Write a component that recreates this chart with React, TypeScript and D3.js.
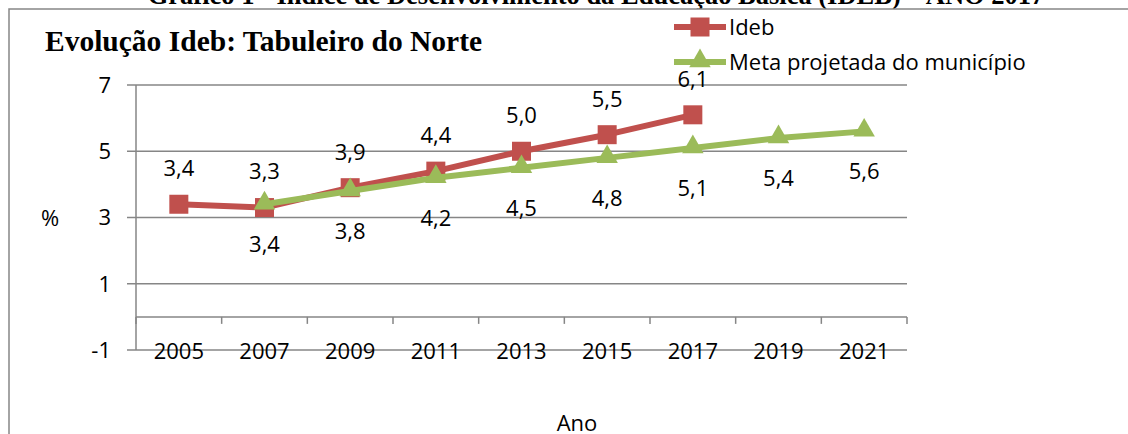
import React from "react";
import * as d3 from "d3";

const years = ["2005", "2007", "2009", "2011", "2013", "2015", "2017", "2019", "2021"];
const idebValues: (number | null)[] = [3.4, 3.3, 3.9, 4.4, 5.0, 5.5, 6.1, null, null];
const metaValues: (number | null)[] = [null, 3.4, 3.8, 4.2, 4.5, 4.8, 5.1, 5.4, 5.6];
const yTicks = [-1, 1, 3, 5, 7];
const seriesNames = ["Ideb", "Meta projetada do município"];

const RED = "#C0504D";
const GREEN = "#9BBB59";
const GRID = "#868686";
const FONT = "'Open Sans', 'Noto Sans', sans-serif";
const FS = 22;

const fmt = (v: number) => v.toFixed(1).replace(".", ",");

export default function App() {
  const W = 1128, H = 434;
  const x = d3.scaleBand<string>().domain(years).range([136, 907]).paddingInner(0).paddingOuter(0);
  const y = d3.scaleLinear().domain([-1, 7]).range([350, 85]);
  const cx = (yr: string) => (x(yr) as number) + x.bandwidth() / 2;

  const line = d3
    .line<{ yr: string; v: number | null }>()
    .defined((d) => d.v != null)
    .x((d) => cx(d.yr))
    .y((d) => y(d.v as number));

  const idebPts = years.map((yr, i) => ({ yr, v: idebValues[i] }));
  const metaPts = years.map((yr, i) => ({ yr, v: metaValues[i] }));

  const sq = 19;
  const tri = d3.symbol().type(d3.symbolTriangle).size(200)();

  const boundaries = years.map((yr) => x(yr) as number).concat([907]);

  return (
    <svg
      width={W}
      height={H}
      style={{ position: "absolute", left: 0, top: 0, display: "block", background: "#fff" }}
    >
      {/* cut-off document caption */}
      <text
        x={596}
        y={4}
        textAnchor="middle"
        fontFamily="'Liberation Serif', 'Times New Roman', serif"
        fontWeight="bold"
        fontSize={26.5}
        fill="#000"
      >
        Gráfico 1 - Índice de Desenvolvimento da Educação Básica (IDEB) – ANO 2017
      </text>
      {/* chart frame */}
      <rect x={9} y={9} width={1200} height={500} fill="#fff" stroke={GRID} strokeWidth={1.5} />

      <text
        x={45}
        y={51}
        fontFamily="'Liberation Serif', 'Times New Roman', serif"
        fontWeight="bold"
        fontSize={29.5}
        fill="#000"
      >
        Evolução Ideb: Tabuleiro do Norte
      </text>

      {/* gridlines */}
      {yTicks.map((t) => (
        <g key={t}>
          <line x1={127} x2={907} y1={y(t)} y2={y(t)} stroke={GRID} strokeWidth={1.5} />
          <text x={111} y={y(t)} dy="0.36em" textAnchor="end" fontFamily={FONT} fontSize={FS} fill="#000">
            {t}
          </text>
        </g>
      ))}
      {/* y axis */}
      <line x1={136} x2={136} y1={y(7)} y2={y(-1)} stroke={GRID} strokeWidth={1.5} />
      {/* x axis at 0 */}
      <line x1={136} x2={907} y1={y(0)} y2={y(0)} stroke={GRID} strokeWidth={1.5} />
      {boundaries.map((b, i) => (
        <line key={i} x1={b} x2={b} y1={y(0)} y2={y(0) + 7} stroke={GRID} strokeWidth={1.5} />
      ))}
      {years.map((yr) => (
        <text key={yr} x={cx(yr)} y={y(-1) + 1} dy="0.36em" textAnchor="middle" fontFamily={FONT} fontSize={FS} fill="#000">
          {yr}
        </text>
      ))}

      {/* axis titles */}
      <text x={50} y={218} dy="0.36em" textAnchor="middle" fontFamily={FONT} fontSize={FS} fill="#000">%</text>
      <text x={577} y={423} dy="0.36em" textAnchor="middle" fontFamily={FONT} fontSize={FS} fill="#000">Ano</text>

      {/* series lines */}
      <path d={line(idebPts) || ""} fill="none" stroke={RED} strokeWidth={6} strokeLinejoin="round" />
      {idebPts.filter((d) => d.v != null).map((d) => (
        <rect key={d.yr} x={cx(d.yr) - sq / 2} y={y(d.v as number) - sq / 2} width={sq} height={sq} fill={RED} />
      ))}
      <path d={line(metaPts) || ""} fill="none" stroke={GREEN} strokeWidth={6} strokeLinejoin="round" />
      {metaPts.filter((d) => d.v != null).map((d) => (
        <path key={d.yr} d={tri || ""} transform={`translate(${cx(d.yr)},${y(d.v as number) - 1})`} fill={GREEN} />
      ))}

      {/* data labels */}
      {idebPts.filter((d) => d.v != null).map((d) => (
        <text key={"l" + d.yr} x={cx(d.yr)} y={y(d.v as number) - 36} dy="0.36em" textAnchor="middle" fontFamily={FONT} fontSize={FS} fill="#000">
          {fmt(d.v as number)}
        </text>
      ))}
      {metaPts.filter((d) => d.v != null).map((d) => (
        <text key={"m" + d.yr} x={cx(d.yr)} y={y(d.v as number) + 40} dy="0.36em" textAnchor="middle" fontFamily={FONT} fontSize={FS} fill="#000">
          {fmt(d.v as number)}
        </text>
      ))}

      {/* legend */}
      <g>
        <line x1={674} x2={726} y1={27} y2={27} stroke={RED} strokeWidth={6} />
        <rect x={700 - sq / 2} y={27 - sq / 2} width={sq} height={sq} fill={RED} />
        <text x={729} y={27} dy="0.36em" fontFamily={FONT} fontSize={FS} fill="#000">{seriesNames[0]}</text>
        <line x1={674} x2={726} y1={62} y2={62} stroke={GREEN} strokeWidth={6} />
        <path d={tri || ""} transform={`translate(700,61)`} fill={GREEN} />
        <text x={729} y={62} dy="0.36em" fontFamily={FONT} fontSize={FS} fill="#000">{seriesNames[1]}</text>
      </g>
    </svg>
  );
}
